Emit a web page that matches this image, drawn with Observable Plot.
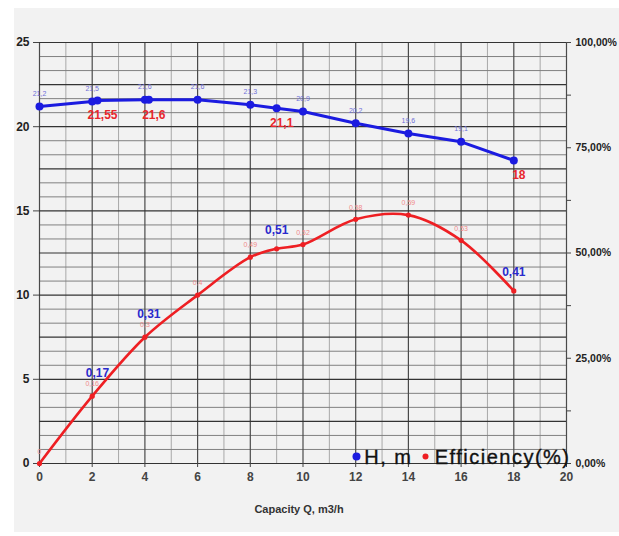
<!DOCTYPE html>
<html><head><meta charset="utf-8">
<script src="https://cdn.jsdelivr.net/npm/d3@7"></script>
<script src="https://cdn.jsdelivr.net/npm/@observablehq/plot@0.6"></script>
<style>
body{margin:0;background:#fff;}
#wrap{position:relative;width:619px;height:536px;overflow:hidden;}
#bg{position:absolute;left:14px;top:8px;width:605px;height:524px;background:#f2f2f2;}
#chart{position:absolute;left:0;top:0;}
#chart svg{overflow:visible;}
</style></head><body><div id="wrap"><div id="bg"></div><div id="chart"></div></div>
<script>
// Head curve H, m
const qH = [0, 2, 2.2, 4, 4.15, 6, 8, 9, 10, 12, 14, 16, 18];
const headH = [21.2, 21.5, 21.55, 21.6, 21.6, 21.6, 21.3, 21.1, 20.9, 20.2, 19.6, 19.1, 18.0];
// Efficiency curve (fraction)
const qE = [0, 2, 4, 6, 8, 9, 10, 12, 14, 16, 18];
const eff = [0, 0.16, 0.3, 0.4, 0.49, 0.51, 0.52, 0.58, 0.59, 0.53, 0.41];
// points carrying small value labels
const headLabelQ = [0, 2, 4, 6, 8, 10, 12, 14, 16];
const effLabelQ = [0, 2, 4, 6, 8, 10, 12, 14, 16];
// duty points (annotated)
const dutyQ = [2.2, 4.15, 9, 18];
const dutyH = [21.55, 21.6, 21.1, 18];
const dutyEff = [0.17, 0.31, 0.51, 0.41];
// ticks
const xTicks = [0, 2, 4, 6, 8, 10, 12, 14, 16, 18, 20];
const yTicks = [0, 5, 10, 15, 20, 25];
const pctTicks = [0, 0.25, 0.5, 0.75, 1];
const pctMinor = [0.125, 0.375, 0.625, 0.875];
const legendLabels = ["H, m", "Efficiency(%)"];
const xLabel = "Capacity Q, m3/h";

const EFF_SCALE = 25; // 100% on right axis = 25 on left axis
const comma = v => String(v).replace(".", ",");
const pctFmt = p => (p * 100).toFixed(2).replace(".", ",") + "%";

const headData = qH.map((q, i) => ({q, v: headH[i]}));
const effData = qE.map((q, i) => ({q, v: eff[i] * EFF_SCALE, raw: eff[i]}));
const headLab = headData.filter(d => headLabelQ.includes(d.q));
const effLab = effData.filter(d => effLabelQ.includes(d.q));
const dutyData = dutyQ.map((q, i) => ({q, h: dutyH[i], e: dutyEff[i] * EFF_SCALE, raw: dutyEff[i]}));

// grid positions
const gridXMinor = d3.range(1, 20, 2);
const gridXMajor = d3.range(0, 21, 2);
const gridYAll = d3.range(0, 31).map(i => i * 25 / 30);
const gridYMinor = gridYAll.filter((_, i) => i % 3 !== 0);
const gridYMajor = gridYAll.filter((_, i) => i % 3 === 0);
const pctAll = [...pctTicks, ...pctMinor];

const BLUE = "#1b1be0", RED = "#ee1f23";
const chart = Plot.plot({
  width: 619, height: 536,
  marginLeft: 39, marginRight: 53, marginTop: 42, marginBottom: 73,
  style: {background: "transparent", fontFamily: "'Liberation Sans', Arial, sans-serif", overflow: "visible"},
  x: {domain: [0, 20]},
  y: {domain: [0, 25]},
  marks: [
    Plot.ruleX(gridXMinor, {stroke: "#a8a8a8", strokeWidth: 1}),
    Plot.ruleY(gridYMinor, {stroke: "#808080", strokeWidth: 1}),
    Plot.ruleX(gridXMajor, {stroke: "#4a4a4a", strokeWidth: 1.2}),
    Plot.ruleY(gridYMajor, {stroke: "#333", strokeWidth: 1.2}),
    Plot.axisX({ticks: xTicks, tickSize: 4, tickPadding: 5, fontSize: 12, fontWeight: "bold", fill: "#444", stroke: "#444", label: null}),
    Plot.axisY({ticks: yTicks, tickSize: 6, tickPadding: 4, fontSize: 12, fontWeight: "bold", fill: "#222", stroke: "#444", label: null}),
    Plot.axisY({anchor: "right", ticks: pctAll.map(p => p * EFF_SCALE), tickFormat: v => pctTicks.includes(v / EFF_SCALE) ? pctFmt(v / EFF_SCALE) : "", tickSize: 4, tickPadding: 5, fontSize: 10.5, fontWeight: "bold", fill: "#222", stroke: "#444", label: null}),
    Plot.text([xLabel], {frameAnchor: "bottom", dy: 49, fontSize: 11, fontWeight: "bold", fill: "#333", dx: -4}),
    // efficiency
    Plot.line(effData, {x: "q", y: "v", stroke: RED, strokeWidth: 2.6, curve: "catmull-rom"}),
    Plot.dot(effData, {x: "q", y: "v", fill: RED, r: 2.6}),
    Plot.text(effLab, {x: "q", y: "v", text: d => comma(d.raw), dy: -12, fontSize: 7, fill: "#f08a8a"}),
    // head
    Plot.line(headData, {x: "q", y: "v", stroke: BLUE, strokeWidth: 3}),
    Plot.dot(headData, {x: "q", y: "v", fill: BLUE, r: 4}),
    Plot.text(headLab, {x: "q", y: "v", text: d => comma(d.v), dy: -13, fontSize: 7, fill: "#7070d8"}),
    // duty annotations
    Plot.text(dutyData, {x: "q", y: "h", text: d => comma(d.h), dy: 15, dx: 5, fontSize: 12, fontWeight: "bold", fill: "#e8262c"}),
    Plot.text(dutyData, {x: "q", y: "e", text: d => comma(d.raw), dy: -19, fontSize: 12, fontWeight: "bold", fill: "#2a2acc"}),
    // legend
    Plot.dot([0], {frameAnchor: "bottom-right", dx: -210, dy: -7, r: 4, fill: BLUE}),
    Plot.text([legendLabels[0]], {frameAnchor: "bottom-right", dx: -154, dy: 0, textAnchor: "end", lineAnchor: "bottom", fontSize: 20, fill: "#111"}),
    Plot.dot([0], {frameAnchor: "bottom-right", dx: -141, dy: -7, r: 3, fill: RED}),
    Plot.text([legendLabels[1]], {frameAnchor: "bottom-right", dx: 4, dy: 0, textAnchor: "end", lineAnchor: "bottom", fontSize: 20, fill: "#111"})
  ]
});
d3.select(chart).selectAll("text")
  .filter(function () { return legendLabels.includes(this.textContent); })
  .attr("letter-spacing", "1.5px")
  .attr("stroke", "#111").attr("stroke-width", 0.35);
document.getElementById("chart").appendChild(chart);
</script>
</body></html>
